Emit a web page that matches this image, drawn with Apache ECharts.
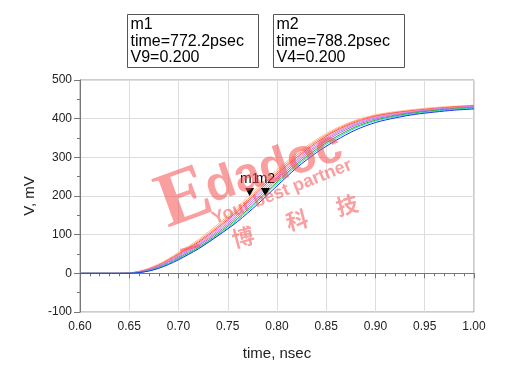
<!DOCTYPE html>
<html>
<head>
<meta charset="utf-8">
<script src="https://cdn.jsdelivr.net/npm/echarts@6/dist/echarts.min.js"></script>
<style>
  html, body { margin: 0; padding: 0; background: #fff; }
  #chart { width: 506px; height: 376px; }
</style>
</head>
<body>
<div id="chart"></div>
<script>
// time axis samples, nsec
const times = [0.60, 0.64, 0.65, 0.66, 0.67, 0.68, 0.69, 0.70, 0.72, 0.74, 0.76, 0.78,
               0.80, 0.82, 0.84, 0.86, 0.88, 0.90, 0.92, 0.94, 0.96, 0.98, 1.00]

// traces, mV (earliest to latest)
const v1 = [0, 0, 1, 5, 13, 24, 38, 54, 87, 127, 172, 222, 268, 310, 346, 375, 396, 410, 418, 424, 429, 432, 435]
const v2 = [0, 0, 1, 5, 12, 22, 36, 51, 83, 122, 166, 215, 262, 305, 342, 372, 394, 408, 416, 422, 427, 431, 434]
const v3 = [0, 0, 1, 4, 11, 21, 34, 49, 80, 118, 161, 210, 257, 300, 338, 369, 391, 406, 415, 421, 426, 430, 433]
const v4 = [0, 0, 1, 4, 11, 20, 33, 47, 77, 114, 157, 205, 252, 296, 334, 365, 389, 404, 413, 420, 425, 429, 432]
const v5 = [0, 0, 1, 3, 10, 19, 31, 45, 74, 110, 152, 200, 247, 292, 330, 362, 386, 402, 411, 418, 424, 428, 431]
const v6 = [0, 0, 1, 3, 9, 17, 29, 42, 71, 106, 147, 194, 242, 287, 326, 358, 383, 399, 409, 417, 422, 427, 430]
const v7 = [0, 0, 0, 2, 7, 15, 26, 39, 67, 102, 142, 188, 236, 282, 321, 353, 379, 396, 407, 415, 421, 425, 428]
const v8 = [0, 0, 0, 2, 7, 14, 25, 37, 65, 99, 138, 184, 232, 278, 317, 349, 376, 394, 405, 413, 419, 424, 427]
const v9 = [0, 0, 0, 2, 6, 13, 23, 35, 63, 97, 134, 178, 226, 273, 312, 344, 371, 390, 402, 411, 417, 422, 425]

const traces = [v1, v2, v3, v4, v5, v6, v7, v8, v9]
const colors = ['#ffb890', '#ff8a50', '#ff4a4a', '#ff80c8', '#a88aff', '#c860c8', '#20b020', '#30d8d8', '#2030f0']

// markers
const m1 = { name: 'm1', time: 0.7722, v: 200, label: ['m1', 'time=772.2psec', 'V9=0.200'] }
const m2 = { name: 'm2', time: 0.7882, v: 200, label: ['m2', 'time=788.2psec', 'V4=0.200'] }

const xTicks = { min: 0.60, max: 1.00, step: 0.05 }
const yTicks = { min: -100, max: 500, step: 100 }

const toPairs = arr => arr.map((v, i) => [times[i], v])

const markerPoint = (m) => ({
  name: m.name,
  coord: [m.time, m.v],
  symbol: 'triangle',
  symbolRotate: 180,
  symbolSize: [9, 8],
  symbolOffset: [0, -4],
  itemStyle: { color: '#000' },
  label: {
    show: true, position: 'top', distance: 2, formatter: m.name,
    color: '#000', fontSize: 14, fontFamily: 'Liberation Sans'
  }
})

const series = traces.map((arr, i) => ({
  type: 'line',
  data: toPairs(arr),
  smooth: 0.3,
  showSymbol: false,
  lineStyle: { width: 1, color: colors[i] },
  z: 2
}))
series[1].markPoint = { silent: true, data: [markerPoint(m1)] }
series[8].markPoint = { silent: true, data: [markerPoint(m2)] }

const boxText = (m, x) => ({
  type: 'group', left: x, top: 14,
  children: [
    { type: 'rect', shape: { x: 0, y: 0, width: 131, height: 53 },
      style: { fill: '#fff', stroke: '#555', lineWidth: 1 } },
    { type: 'text', x: 3, y: 2,
      style: { text: m.label.join('\n'), fill: '#000', font: '16px "Liberation Sans"', lineHeight: 16.5 } }
  ]
})

const wm = 'rgba(245, 80, 80, 0.55)'
const wmText = (text, x, y, size, rot, family) => ({
  type: 'text', x: x, y: y, rotation: rot, z: 50, silent: true,
  style: { text: text, fill: wm, font: 'bold ' + size + 'px ' + family, align: 'center', verticalAlign: 'middle' }
})

const options = {
  animation: false,
  grid: { left: 80, right: 32, top: 80, bottom: 64, show: true, borderColor: '#999', borderWidth: 1 },
  xAxis: {
    type: 'value', min: xTicks.min, max: xTicks.max, interval: xTicks.step,
    name: 'time, nsec', nameLocation: 'middle', nameGap: 34,
    nameTextStyle: { color: '#222', fontSize: 15, fontFamily: 'Liberation Sans' },
    axisLine: { lineStyle: { color: '#777' } },
    axisTick: { length: 5, lineStyle: { color: '#777' } },
    minorTick: { show: true, splitNumber: 5, length: 3, lineStyle: { color: '#777' } },
    axisLabel: { color: '#222', fontSize: 12, fontFamily: 'Liberation Sans', margin: 9,
                 formatter: v => v.toFixed(2) },
    splitLine: { lineStyle: { color: '#ddd' } }
  },
  yAxis: {
    type: 'value', min: yTicks.min, max: yTicks.max, interval: yTicks.step,
    name: 'V, mV', nameLocation: 'middle', nameGap: 42,
    nameTextStyle: { color: '#222', fontSize: 15, fontFamily: 'Liberation Sans' },
    axisLine: { show: true, lineStyle: { color: '#777' } },
    axisTick: { show: true, length: 6, lineStyle: { color: '#777' } },
    minorTick: { show: true, splitNumber: 2, length: 3, lineStyle: { color: '#777' } },
    axisLabel: { color: '#222', fontSize: 12, fontFamily: 'Liberation Sans', margin: 8 },
    splitLine: { lineStyle: { color: '#ddd' } }
  },
  graphic: [
    boxText(m1, 127),
    boxText(m2, 273),
    wmText('E', 185, 200, 78, 0.35, '"Liberation Serif"'),
    wmText('dadoc', 274, 168, 48, 0.32, '"Liberation Sans"'),
    wmText('Your best partner', 282, 192, 18, 0.38, '"Liberation Sans"'),
    wmText('一', 190, 248, 22, 0.26, '"Noto Sans CJK SC"'),
    wmText('博', 243, 237, 22, 0.26, '"Noto Sans CJK SC"'),
    wmText('科', 297, 220, 22, 0.26, '"Noto Sans CJK SC"'),
    wmText('技', 347, 205, 22, 0.26, '"Noto Sans CJK SC"')
  ],
  series: series
}

const chart = echarts.init(document.getElementById('chart'))
chart.setOption(options)
window.addEventListener('resize', function () {
  chart && chart.resize()
})
</script>
</body>
</html>
